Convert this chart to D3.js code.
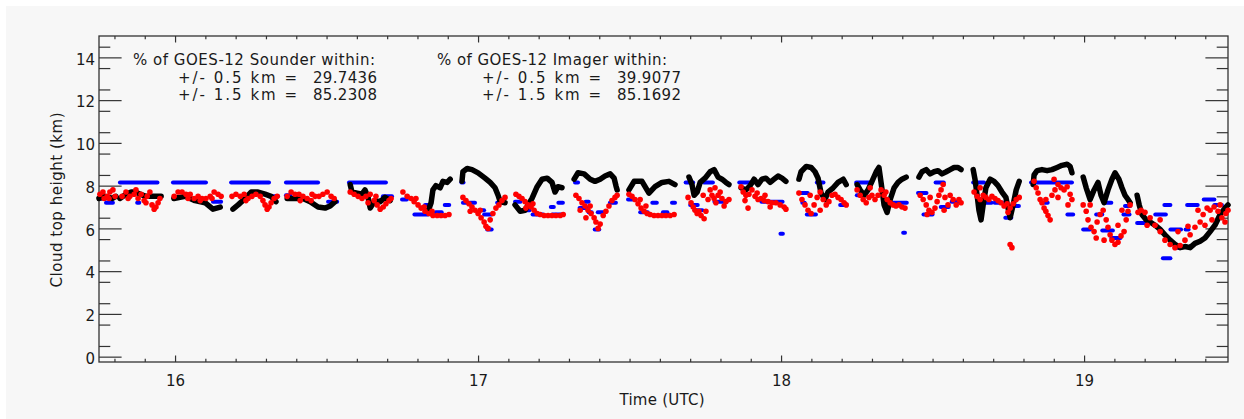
<!DOCTYPE html>
<html>
<head>
<meta charset="utf-8">
<script src="https://cdn.jsdelivr.net/npm/d3@7"></script>
<style>
  html, body { margin: 0; padding: 0; background: #fff; }
  svg { display: block; }
  text { font-family: "DejaVu Sans", "Liberation Sans", Arial, sans-serif; fill: #1a1a1a; }
</style>
</head>
<body>
<svg id="chart" width="1244" height="419"></svg>
<script>
// Time axis (hours UTC) and height axis (km)
const xTicksMajor = [16, 17, 18, 19];
const yTicksMajor = [0, 2, 4, 6, 8, 10, 12, 14];

// legend numbers
const tolerances = ["0.5", "1.5"];
const sounderPct = ["29.7436", "85.2308"];
const imagerPct = ["39.9077", "85.1692"];

// black: reference cloud top, one polyline per overpass chunk [hour, km]
const referenceSegments = [
  [[15.749,7.4],[15.769,7.5],[15.792,7.4],[15.805,7.5]],
  [[15.818,7.4],[15.838,7.6],[15.855,7.7],[15.871,7.7],[15.884,7.6],[15.904,7.5],[15.924,7.5],[15.944,7.5],[15.954,7.5]],
  [[15.996,7.4],[16.033,7.5],[16.066,7.3],[16.099,7.2],[16.125,6.9],[16.149,7.0]],
  [[16.191,6.9],[16.208,7.1],[16.231,7.4],[16.251,7.7],[16.274,7.7],[16.297,7.6],[16.317,7.5],[16.333,7.25]],
  [[16.370,7.4],[16.396,7.4],[16.422,7.4],[16.446,7.25],[16.472,7.0],[16.495,6.95],[16.512,7.05],[16.528,7.25]],
  [[16.578,8.05],[16.584,7.7],[16.601,7.65],[16.617,7.6],[16.627,7.8],[16.637,7.45],[16.644,6.95],[16.660,7.3],[16.677,7.25],[16.693,7.45],[16.710,7.3]],
  [[16.835,6.8],[16.845,7.2],[16.851,7.8],[16.861,8.0],[16.875,7.9],[16.884,8.2],[16.898,8.15],[16.908,8.3]],
  [[16.947,8.2],[16.950,8.65],[16.964,8.8],[16.980,8.75],[17.000,8.6],[17.023,8.35],[17.040,8.15],[17.056,7.9],[17.066,7.55],[17.073,7.25],[17.089,7.2]],
  [[17.122,7.1],[17.139,6.8],[17.155,6.85],[17.178,7.4],[17.195,7.95],[17.211,8.3],[17.228,8.35],[17.244,8.15],[17.254,7.7],[17.264,7.95],[17.277,7.9]],
  [[17.317,8.3],[17.330,8.6],[17.350,8.55],[17.370,8.3],[17.386,8.2],[17.403,8.3],[17.419,8.45],[17.436,8.55],[17.449,8.35],[17.455,8.0],[17.459,7.8]],
  [[17.498,7.8],[17.515,8.2],[17.541,8.2],[17.564,7.65],[17.584,7.95],[17.607,8.15],[17.630,8.2],[17.650,8.05]],
  [[17.696,8.4],[17.706,8.05],[17.713,7.55],[17.723,7.7],[17.733,8.15],[17.749,8.35],[17.766,8.65],[17.779,8.75],[17.792,8.4],[17.805,8.3],[17.818,8.15],[17.828,8.05]],
  [[17.868,7.9],[17.884,7.8],[17.898,8.0],[17.911,8.3],[17.924,8.05],[17.937,8.3],[17.950,8.35],[17.964,8.15],[17.977,8.3],[17.990,8.45],[18.003,8.35],[18.016,8.2]],
  [[18.059,8.3],[18.066,8.65],[18.083,8.9],[18.099,8.85],[18.112,8.65],[18.122,8.35],[18.132,7.65],[18.145,7.35],[18.155,7.7],[18.172,7.9],[18.188,8.15],[18.205,8.3],[18.215,8.05]],
  [[18.251,8.05],[18.261,7.8],[18.274,7.55],[18.287,7.8],[18.300,8.2],[18.314,8.65],[18.323,8.85],[18.330,8.15],[18.340,7.1],[18.350,6.75],[18.360,7.35],[18.373,7.9],[18.386,8.15],[18.399,8.3],[18.413,8.4]],
  [[18.455,8.4],[18.465,8.65],[18.479,8.75],[18.492,8.55],[18.505,8.65],[18.518,8.7],[18.531,8.55],[18.545,8.65],[18.558,8.75],[18.571,8.85],[18.584,8.85],[18.594,8.75]],
  [[18.634,8.75],[18.640,8.3],[18.647,7.55],[18.653,6.85],[18.660,6.4],[18.667,7.1],[18.676,7.9],[18.690,8.3],[18.703,8.2],[18.716,8.0],[18.729,7.7],[18.742,7.45],[18.749,6.95],[18.756,6.5],[18.766,7.1],[18.776,7.8],[18.786,8.2]],
  [[18.832,8.05],[18.835,8.5],[18.845,8.7],[18.861,8.75],[18.878,8.7],[18.894,8.75],[18.911,8.85],[18.927,8.95],[18.944,9.0],[18.954,8.9],[18.960,8.6]],
  [[18.997,8.4],[19.007,7.9],[19.020,7.35],[19.033,7.8],[19.046,8.15],[19.056,7.55],[19.066,7.2],[19.079,7.8],[19.092,8.3],[19.102,8.6],[19.115,8.3],[19.125,7.9],[19.135,7.55],[19.145,7.35],[19.152,7.2]],
  [[19.175,7.55],[19.182,7.1],[19.191,6.65],[19.205,6.4],[19.218,6.3],[19.234,6.15],[19.251,5.95],[19.267,5.7],[19.284,5.45],[19.300,5.25],[19.317,5.1],[19.333,5.15],[19.350,5.1],[19.366,5.3],[19.383,5.4],[19.399,5.55],[19.416,5.85],[19.432,6.15],[19.449,6.65],[19.465,6.95],[19.475,7.1]]
];

// blue: GOES-12 sounder, quantized levels [start hour, end hour, km]
const sounderDashes = [
  [15.749,15.772,7.4],[15.772,15.795,7.2],
  [15.818,15.942,8.15],[15.927,15.954,7.5],[15.875,15.882,7.2],
  [15.993,16.102,8.15],[16.125,16.152,7.25],
  [16.185,16.310,8.15],[16.310,16.340,7.5],
  [16.366,16.472,8.15],[16.366,16.380,7.55],[16.505,16.535,7.25],
  [16.574,16.696,8.15],[16.686,16.716,7.5],
  [16.749,16.765,7.35],[16.790,16.835,6.65],[16.825,16.840,7.1],[16.860,16.880,6.75],[16.890,16.905,7.1],
  [16.945,16.952,8.15],[16.950,16.990,7.2],[17.010,17.020,6.85],[17.020,17.045,6.65],[17.030,17.045,5.95],[17.063,17.089,7.2],
  [17.122,17.140,7.25],[17.155,17.170,6.85],[17.180,17.215,6.65],[17.245,17.280,6.65],[17.240,17.250,7.0],[17.265,17.280,7.2],
  [17.320,17.330,8.15],[17.335,17.360,6.95],[17.355,17.365,7.25],[17.365,17.375,6.75],[17.395,17.420,6.75],[17.385,17.400,5.95],[17.435,17.455,7.2],
  [17.495,17.510,7.35],[17.535,17.560,6.75],[17.575,17.590,7.2],[17.610,17.625,6.75],[17.640,17.650,7.2],
  [17.685,17.710,8.15],[17.745,17.775,8.15],[17.700,17.725,7.1],[17.715,17.740,6.85],[17.780,17.820,7.25],
  [17.862,17.905,8.15],[17.935,18.005,7.25],[17.998,18.006,5.75],
  [18.063,18.088,7.65],[18.070,18.078,7.2],[18.085,18.115,6.65],[18.118,18.140,8.15],[18.195,18.215,7.1],
  [18.248,18.300,8.15],[18.250,18.258,7.55],[18.345,18.415,7.2],[18.403,18.409,5.8],
  [18.452,18.480,7.65],[18.470,18.500,6.65],[18.510,18.537,8.15],[18.527,18.553,7.0],[18.563,18.590,7.25],
  [18.634,18.670,8.15],[18.650,18.695,7.2],[18.705,18.745,7.2],[18.740,18.760,6.5],[18.760,18.785,7.05],
  [18.825,18.960,8.15],[18.870,18.880,7.2],[18.945,18.964,6.65],
  [18.997,19.020,5.95],[19.040,19.060,6.65],[19.060,19.095,5.9],[19.070,19.090,7.2],[19.090,19.120,5.55],[19.130,19.150,6.65],[19.135,19.152,7.05],
  [19.175,19.215,6.25],[19.235,19.270,6.65],[19.265,19.285,7.1],[19.260,19.285,4.6],[19.285,19.320,5.95],[19.300,19.320,5.1],[19.335,19.345,5.95],[19.340,19.375,7.1],[19.395,19.430,7.35],[19.430,19.455,7.1]
];

// red: GOES-12 imager retrievals [hour, km]
const imagerPoints = [
  [15.752,7.6],[15.762,7.7],[15.776,7.5],[15.785,7.7],[15.795,7.8],[15.802,7.5],[15.766,7.4],[15.782,7.4],
  [15.825,7.5],[15.838,7.7],[15.851,7.5],[15.865,7.6],[15.878,7.4],[15.888,7.6],[15.898,7.3],[15.908,7.5],[15.917,7.7],[15.924,7.1],[15.931,6.9],[15.937,7.0],[15.944,7.2],[15.950,7.4],[15.871,7.8],[15.845,7.4],[15.904,7.2],
  [15.997,7.5],[16.010,7.7],[16.023,7.7],[16.036,7.6],[16.050,7.6],[16.063,7.4],[16.076,7.5],[16.089,7.4],[16.102,7.4],[16.116,7.5],[16.129,7.7],[16.142,7.6],[16.152,7.5],[16.043,7.4],[16.083,7.3],[16.122,7.4],
  [16.188,7.5],[16.201,7.6],[16.215,7.5],[16.228,7.6],[16.241,7.4],[16.254,7.5],[16.267,7.6],[16.281,7.5],[16.290,7.3],[16.297,7.1],[16.304,6.9],[16.310,7.0],[16.317,7.2],[16.327,7.4],[16.337,7.5],[16.234,7.3],
  [16.370,7.5],[16.383,7.7],[16.396,7.6],[16.409,7.6],[16.422,7.5],[16.436,7.4],[16.449,7.3],[16.462,7.5],[16.475,7.5],[16.488,7.6],[16.502,7.7],[16.515,7.5],[16.525,7.4],[16.413,7.3],[16.452,7.6],
  [16.578,7.7],[16.591,7.6],[16.604,7.5],[16.617,7.4],[16.630,7.5],[16.644,7.6],[16.657,7.3],[16.667,7.1],[16.677,6.9],[16.687,7.0],[16.696,7.15],[16.706,7.3],[16.713,7.4],[16.637,7.2],[16.663,7.5],
  [16.752,7.7],[16.766,7.5],[16.779,7.4],[16.789,7.25],[16.802,7.1],[16.812,6.95],[16.825,6.8],[16.838,6.7],[16.851,6.6],[16.865,6.6],[16.878,6.6],[16.891,6.6],[16.904,6.65],[16.795,7.4],[16.822,7.0],[16.848,6.8],
  [16.950,7.45],[16.960,7.3],[16.970,7.15],[16.980,7.0],[16.990,6.85],[17.000,6.7],[17.010,6.5],[17.020,6.3],[17.026,6.1],[17.033,6.0],[17.040,6.4],[17.049,6.7],[17.059,6.95],[17.069,7.1],[17.079,7.3],[17.089,7.45],[17.007,6.85],[16.974,6.8],
  [17.125,7.6],[17.135,7.5],[17.145,7.4],[17.155,7.25],[17.165,7.1],[17.175,7.0],[17.185,6.85],[17.195,6.7],[17.205,6.65],[17.218,6.6],[17.231,6.6],[17.244,6.6],[17.257,6.6],[17.271,6.6],[17.281,6.65],[17.158,6.95],[17.181,7.15],
  [17.323,7.55],[17.333,7.4],[17.343,7.2],[17.353,7.05],[17.363,6.85],[17.373,6.7],[17.383,6.5],[17.389,6.3],[17.396,6.0],[17.403,6.2],[17.413,6.6],[17.422,6.8],[17.432,7.05],[17.442,7.3],[17.452,7.45],[17.459,7.55],[17.337,6.85],[17.370,7.05],[17.356,6.5],
  [17.498,7.6],[17.508,7.5],[17.518,7.35],[17.528,7.15],[17.538,6.95],[17.548,6.8],[17.558,6.7],[17.568,6.65],[17.581,6.6],[17.594,6.6],[17.607,6.6],[17.620,6.6],[17.634,6.6],[17.647,6.65],[17.535,7.35],[17.554,7.05],
  [17.693,7.45],[17.703,7.2],[17.710,7.0],[17.716,6.85],[17.723,6.7],[17.729,6.8],[17.736,6.6],[17.746,6.45],[17.752,6.8],[17.759,7.35],[17.766,7.8],[17.772,7.55],[17.779,7.4],[17.785,7.2],[17.792,7.55],[17.799,7.7],[17.805,7.4],[17.812,7.05],[17.818,7.25],[17.828,7.35],[17.743,7.55],[17.782,7.9],
  [17.868,7.95],[17.875,7.7],[17.884,7.55],[17.894,7.6],[17.904,7.8],[17.914,7.5],[17.924,7.35],[17.934,7.4],[17.944,7.3],[17.957,7.25],[17.970,7.2],[17.983,7.2],[17.997,7.1],[18.010,7.0],[18.016,6.9],[17.881,7.3],[17.891,6.95],[17.921,7.65],[17.947,7.55],[17.964,7.0],
  [18.059,7.65],[18.069,7.35],[18.079,7.1],[18.089,6.85],[18.099,6.7],[18.109,7.1],[18.119,7.45],[18.129,7.7],[18.139,7.35],[18.149,7.1],[18.158,7.25],[18.168,7.55],[18.178,7.6],[18.188,7.45],[18.198,7.35],[18.208,7.2],[18.215,7.1],[18.096,7.55],[18.129,6.85],
  [18.251,7.8],[18.261,7.55],[18.271,7.35],[18.281,7.2],[18.290,7.45],[18.300,7.55],[18.310,7.35],[18.320,7.55],[18.330,7.8],[18.340,7.55],[18.350,7.35],[18.360,7.2],[18.370,7.1],[18.379,7.05],[18.389,7.1],[18.399,7.0],[18.409,6.95],[18.294,7.9],[18.346,7.7],
  [18.459,7.55],[18.469,7.35],[18.479,7.1],[18.488,6.85],[18.498,6.75],[18.508,6.95],[18.515,7.25],[18.521,7.55],[18.528,7.8],[18.535,8.05],[18.541,7.45],[18.551,7.1],[18.558,7.55],[18.568,7.35],[18.578,7.1],[18.587,7.35],[18.594,7.2],[18.492,7.45],[18.538,6.85],[18.482,6.65],
  [18.637,7.7],[18.647,7.5],[18.657,7.35],[18.667,7.55],[18.676,7.45],[18.686,7.35],[18.696,7.5],[18.706,7.4],[18.716,7.3],[18.726,7.2],[18.736,7.05],[18.746,7.15],[18.756,6.95],[18.766,7.15],[18.776,7.35],[18.786,7.45],[18.657,7.9],[18.749,6.75],[18.756,5.25],[18.762,5.1],
  [18.835,8.2],[18.842,7.9],[18.848,7.65],[18.855,7.35],[18.861,7.2],[18.868,6.95],[18.874,6.8],[18.881,6.6],[18.888,6.4],[18.874,7.35],[18.894,7.55],[18.904,7.8],[18.914,8.05],[18.924,7.9],[18.934,7.8],[18.944,7.95],[18.954,7.6],[18.960,7.35],[18.914,7.45],[18.947,7.1],[18.901,8.3],
  [18.997,7.1],[19.007,6.8],[19.013,6.4],[19.023,6.05],[19.033,5.85],[19.043,6.3],[19.053,6.65],[19.063,6.85],[19.073,6.4],[19.079,6.05],[19.086,5.7],[19.092,5.45],[19.102,5.25],[19.112,5.35],[19.122,5.65],[19.132,5.85],[19.139,6.4],[19.145,6.8],[19.152,7.1],[19.066,5.45],[19.040,5.55],[19.112,6.15],[19.125,6.85],[19.020,7.1],
  [19.178,6.75],[19.188,6.85],[19.201,6.75],[19.218,6.5],[19.234,6.15],[19.251,5.85],[19.267,5.45],[19.284,5.25],[19.300,5.1],[19.317,5.2],[19.333,5.45],[19.350,5.7],[19.366,6.05],[19.383,6.3],[19.393,6.65],[19.406,6.95],[19.416,6.85],[19.429,7.0],[19.442,6.8],[19.455,6.5],[19.468,6.7],[19.475,6.85],[19.251,6.4],[19.310,5.85],[19.343,6.1],[19.376,6.85],[19.422,6.4],[19.449,7.1],[19.208,6.15],[19.399,6.15],[19.465,6.3]
];

const svg = d3.select("#chart");
const plot = { left: 99, right: 1228, top: 36, bottom: 362 };
const font = '"DejaVu Sans", "Liberation Sans", Arial, sans-serif';

// light gray panel
svg.append("rect")
  .attr("x", 6).attr("y", 6).attr("width", 1238).attr("height", 413)
  .attr("fill", "#f7f7f7");

const x = d3.scaleLinear().domain([15.749, 19.475]).range([plot.left, plot.right]);
const y = d3.scaleLinear().domain([-0.25, 15]).range([plot.bottom, plot.top]);

const xMinor = d3.range(158, 195).filter(d => d % 10 !== 0).map(d => d / 10);
const yMinor = d3.range(1, 30, 2).map(d => d / 2);

const axisColor = "#333";
function styleAxis(g) {
  g.select(".domain").remove();
  g.attr("color", axisColor);
  g.selectAll("line").attr("stroke-width", 1.2);
  g.selectAll("text")
    .attr("fill", "#1a1a1a")
    .style("font-family", font)
    .style("font-size", "15px");
}

// bottom axis
svg.append("g").attr("transform", `translate(0,${plot.bottom})`)
  .call(d3.axisBottom(x).tickValues(xTicksMajor).tickSize(-6.5).tickPadding(13).tickFormat(d3.format("d")))
  .call(styleAxis);
svg.append("g").attr("transform", `translate(0,${plot.bottom})`)
  .call(d3.axisBottom(x).tickValues(xMinor).tickSize(-3.3).tickFormat(""))
  .call(styleAxis);
// top axis
svg.append("g").attr("transform", `translate(0,${plot.top})`)
  .call(d3.axisTop(x).tickValues(xTicksMajor).tickSize(-6.5).tickFormat(""))
  .call(styleAxis);
svg.append("g").attr("transform", `translate(0,${plot.top})`)
  .call(d3.axisTop(x).tickValues(xMinor).tickSize(-3.3).tickFormat(""))
  .call(styleAxis);
// left axis
svg.append("g").attr("transform", `translate(${plot.left},0)`)
  .call(d3.axisLeft(y).tickValues(yTicksMajor).tickSize(-22.6).tickPadding(4).tickFormat(d3.format("d")))
  .call(styleAxis)
  .call(g => g.selectAll("text").attr("dy", "0.45em"));
svg.append("g").attr("transform", `translate(${plot.left},0)`)
  .call(d3.axisLeft(y).tickValues(yMinor).tickSize(-11.3).tickFormat(""))
  .call(styleAxis);
// right axis
svg.append("g").attr("transform", `translate(${plot.right},0)`)
  .call(d3.axisRight(y).tickValues(yTicksMajor).tickSize(-22.6).tickFormat(""))
  .call(styleAxis);
svg.append("g").attr("transform", `translate(${plot.right},0)`)
  .call(d3.axisRight(y).tickValues(yMinor).tickSize(-11.3).tickFormat(""))
  .call(styleAxis);

// frame
svg.append("rect")
  .attr("x", plot.left).attr("y", plot.top)
  .attr("width", plot.right - plot.left).attr("height", plot.bottom - plot.top)
  .attr("fill", "none").attr("stroke", axisColor).attr("stroke-width", 1.3);

// data
const marks = svg.append("g");

marks.selectAll("line.sounder")
  .data(sounderDashes)
  .enter().append("line")
  .attr("class", "sounder")
  .attr("x1", d => x(d[0])).attr("x2", d => x(d[1]))
  .attr("y1", d => y(d[2])).attr("y2", d => y(d[2]))
  .attr("stroke", "#0000ff").attr("stroke-width", 4)
  .attr("stroke-linecap", "round");

const line = d3.line().x(d => x(d[0])).y(d => y(d[1]));
marks.selectAll("path.reference")
  .data(referenceSegments)
  .enter().append("path")
  .attr("class", "reference")
  .attr("d", line)
  .attr("fill", "none").attr("stroke", "#000").attr("stroke-width", 5.5)
  .attr("stroke-linejoin", "round").attr("stroke-linecap", "round");

marks.selectAll("circle.imager")
  .data(imagerPoints)
  .enter().append("circle")
  .attr("class", "imager")
  .attr("cx", d => x(d[0])).attr("cy", d => y(d[1]))
  .attr("r", 2.8)
  .attr("fill", "#ff0000");

// axis titles
svg.append("text")
  .attr("x", 662).attr("y", 405)
  .attr("text-anchor", "middle")
  .style("font-size", "15px")
  .attr("textLength", 85).attr("lengthAdjust", "spacing")
  .text("Time (UTC)");

svg.append("text")
  .attr("transform", "translate(62,200) rotate(-90)")
  .attr("text-anchor", "middle")
  .style("font-size", "15px")
  .attr("textLength", 175).attr("lengthAdjust", "spacing")
  .text("Cloud top height (km)");

// statistics text
function statsBlock(x0, title, titleLen, values) {
  svg.append("text")
    .attr("x", x0).attr("y", 65)
    .style("font-size", "15px")
    .attr("textLength", titleLen).attr("lengthAdjust", "spacing")
    .text(title);
  values.forEach((v, i) => {
    const yy = 83 + i * 17;
    svg.append("text")
      .attr("x", x0 + 45).attr("y", yy)
      .style("font-size", "15px")
      .attr("textLength", 119).attr("lengthAdjust", "spacing")
      .text(`+/- ${tolerances[i]} km =`);
    svg.append("text")
      .attr("x", x0 + 180).attr("y", yy)
      .style("font-size", "15px")
      .attr("textLength", 64).attr("lengthAdjust", "spacing")
      .text(v);
  });
}
statsBlock(133, "% of GOES-12 Sounder within:", 242, sounderPct);
statsBlock(437, "% of GOES-12 Imager within:", 230, imagerPct);
</script>
</body>
</html>
